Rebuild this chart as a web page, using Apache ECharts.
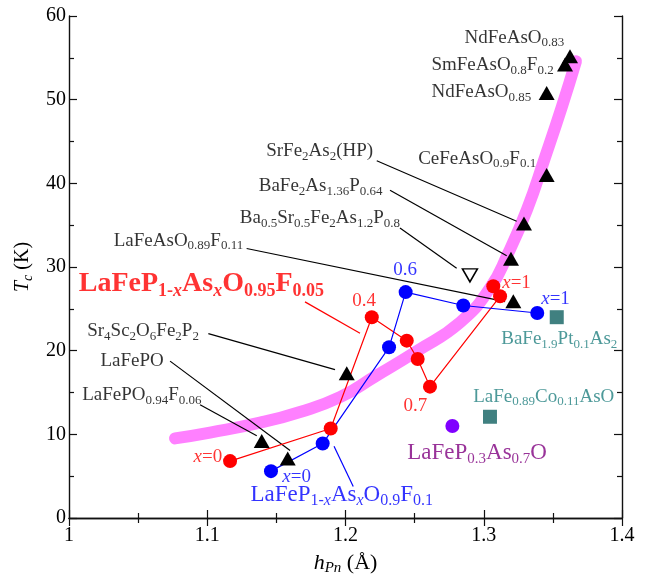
<!DOCTYPE html>
<html>
<head>
<meta charset="utf-8">
<script src="https://cdn.jsdelivr.net/npm/echarts@6/dist/echarts.min.js"></script>
<style>
html, body { margin: 0; padding: 0; background: #fff; }
#chart { width: 651px; height: 581px; }
</style>
</head>
<body>
<div id="chart"></div>
<script>
// Tc vs pnictogen height h_Pn
var FONT = 'Liberation Serif';

// black up-triangles (other compounds)
var triangleNames = ['NdFeAsO0.83', 'SmFeAsO0.8F0.2', 'NdFeAsO0.85', 'CeFeAsO0.9F0.1', 'SrFe2As2(HP)',
    'BaFe2As1.36P0.64', 'LaFeAsO0.89F0.11', 'Sr4Sc2O6Fe2P2', 'LaFePO', 'LaFePO0.94F0.06'];
var triangleH = [1.3624, 1.3588, 1.3455, 1.3455, 1.3291, 1.3197, 1.3214, 1.2009, 1.1394, 1.1582];
var triangleTc = [55.2, 54.2, 50.8, 41.0, 35.2, 31.0, 25.9, 17.3, 9.2, 7.1];

// open down-triangle: Ba0.5Sr0.5Fe2As1.2P0.8
var openH = [1.2900];
var openTc = [29.0];

// LaFeP1-xAsxO0.95F0.05 (red)
var redH = [1.1165, 1.1893, 1.2190, 1.2443, 1.2522, 1.2611, 1.3118, 1.3069];
var redTc = [6.8, 10.7, 24.0, 21.2, 19.0, 15.7, 26.5, 27.7];

// LaFeP1-xAsxO0.9F0.1 (blue)
var blueH = [1.1461, 1.1835, 1.2315, 1.2435, 1.2852, 1.3387];
var blueTc = [5.6, 8.9, 20.4, 27.0, 25.4, 24.5];

// squares: BaFe1.9Pt0.1As2, LaFe0.89Co0.11AsO
var squareH = [1.3528, 1.3045];
var squareTc = [24.0, 12.1];

// LaFeP0.3As0.7O (purple)
var purpleH = [1.2773];
var purpleTc = [11.0];

// thick guide curve
var curveH = [1.0767, 1.1020, 1.1382, 1.1671, 1.1960, 1.2213, 1.2517, 1.2828, 1.3045, 1.3175, 1.3313, 1.3443, 1.3566, 1.3667];
var curveTc = [9.51, 10.21, 11.39, 12.68, 14.44, 16.91, 19.96, 23.37, 27.47, 31.58, 36.87, 43.09, 49.20, 54.60];

// leader lines [h0, tc0, h1, tc1]
var blackLeaders = [
    [1.2226, 42.70, 1.3238, 35.46],
    [1.2322, 39.18, 1.3166, 31.35],
    [1.2394, 34.67, 1.2804, 29.86],
    [1.1285, 32.21, 1.3154, 25.87],
    [1.1008, 22.04, 1.1924, 17.73],
    [1.0731, 18.75, 1.1599, 8.07],
    [1.0948, 13.54, 1.1358, 9.83]
];
var redLeaders = [[1.1707, 25.83, 1.2105, 22.07]];
var blueLeaders = [[1.1917, 8.57, 1.2056, 3.76]];

// text labels [h, tc, rich text]
var blackLabels = [
    [1.2857, 57.41, '{n|NdFeAsO}{s|0.83}'],
    [1.2618, 54.13, '{n|SmFeAsO}{s|0.8}{n|F}{s|0.2}'],
    [1.2618, 50.87, '{n|NdFeAsO}{s|0.85}'],
    [1.2522, 42.94, '{n|CeFeAsO}{s|0.9}{n|F}{s|0.1}'],
    [1.1423, 43.82, '{n|SrFe}{s|2}{n|As}{s|2}{n|(HP)}'],
    [1.1369, 39.65, '{n|BaFe}{s|2}{n|As}{s|1.36}{n|P}{s|0.64}'],
    [1.1232, 35.81, '{n|Ba}{s|0.5}{n|Sr}{s|0.5}{n|Fe}{s|2}{n|As}{s|1.2}{n|P}{s|0.8}'],
    [1.0320, 33.11, '{n|LaFeAsO}{s|0.89}{n|F}{s|0.11}'],
    [1.0128, 22.31, '{n|Sr}{s|4}{n|Sc}{s|2}{n|O}{s|6}{n|Fe}{s|2}{n|P}{s|2}'],
    [1.0224, 18.82, '{n|LaFePO}'],
    [1.0092, 14.68, '{n|LaFePO}{s|0.94}{n|F}{s|0.06}']
];
var redTitle = [[1.0067, 27.94, '{n|LaFeP}{s|1-}{si|x}{n|As}{si|x}{n|O}{s|0.95}{n|F}{s|0.05}']];
var redLabels = [
    [1.2045, 25.89, '{n|0.4}'],
    [1.2416, 13.44, '{n|0.7}'],
    [1.3130, 28.06, '{i|x}{n|=1}'],
    [1.0897, 7.28, '{i|x}{n|=0}']
];
var blueLabels = [
    [1.2341, 29.59, '{n|0.6}'],
    [1.3412, 26.12, '{i|x}{n|=1}'],
    [1.1539, 4.87, '{i|x}{n|=0}']
];
var blueTitle = [[1.1309, 2.70, '{n|LaFeP}{s|1-}{si|x}{n|As}{si|x}{n|O}{s|0.9}{n|F}{s|0.1}']];
var tealLabels = [
    [1.3123, 21.37, '{n|BaFe}{s|1.9}{n|Pt}{s|0.1}{n|As}{s|2}'],
    [1.2920, 14.48, '{n|LaFe}{s|0.89}{n|Co}{s|0.11}{n|AsO}']
];
var purpleLabels = [[1.2443, 7.75, '{n|LaFeP}{s|0.3}{n|As}{s|0.7}{n|O}']];

function zip(a, b) {
    return a.map(function (v, i) { return [v, b[i]]; });
}

function rich(color, size, sub, weight) {
    var base = { color: color, fontFamily: FONT, fontWeight: weight || 'normal' };
    return {
        n: Object.assign({ fontSize: size, lineHeight: size + 4 }, base),
        i: Object.assign({ fontSize: size, lineHeight: size + 4, fontStyle: 'italic' }, base),
        s: Object.assign({ fontSize: sub, lineHeight: sub - 2, verticalAlign: 'bottom' }, base),
        si: Object.assign({ fontSize: sub, lineHeight: sub - 2, verticalAlign: 'bottom', fontStyle: 'italic' }, base)
    };
}

function labelSeries(items, rs) {
    return {
        type: 'scatter',
        silent: true,
        symbolSize: 1,
        itemStyle: { color: 'transparent' },
        z: 10,
        label: { show: true, position: 'right', distance: 0, rich: rs },
        data: items.map(function (it) {
            return { value: [it[0], it[1]], label: { formatter: it[2] } };
        })
    };
}

function leaderSeries(segs, color) {
    return segs.map(function (s) {
        return {
            type: 'line',
            silent: true,
            symbol: 'none',
            z: 4,
            lineStyle: { color: color, width: 1.2 },
            data: [[s[0], s[1]], [s[2], s[3]]]
        };
    });
}

var axisLine = { lineStyle: { color: '#111', width: 1.4 } };
var tick = { inside: true, length: 8, lineStyle: { color: '#111', width: 1.2 } };
var minor = { show: true, splitNumber: 2, length: 5, lineStyle: { color: '#111', width: 1.2 } };

var chart = echarts.init(document.getElementById('chart'));
chart.setOption({
    animation: false,
    backgroundColor: '#fff',
    grid: { left: 69, right: 29, top: 16, bottom: 54 },
    xAxis: [{
        type: 'value', min: 1, max: 1.4, interval: 0.1,
        axisLine: axisLine,
        axisTick: tick,
        minorTick: minor,
        splitLine: { show: false },
        axisLabel: {
            color: '#000', fontFamily: FONT, fontSize: 20, margin: 8,
            formatter: function (v) { return String(+v.toFixed(1)); }
        },
        name: '{i|h}{si|Pn} (Å)',
        nameLocation: 'middle',
        nameGap: 32,
        nameTextStyle: {
            color: '#000', fontFamily: FONT, fontSize: 22,
            rich: rich('#000', 22, 15)
        }
    }, {
        type: 'value', min: 1, max: 1.4, interval: 0.1, position: 'top',
        axisLine: axisLine,
        axisTick: tick,
        minorTick: minor,
        splitLine: { show: false },
        axisLabel: { show: false }
    }],
    yAxis: [{
        type: 'value', min: 0, max: 60, interval: 10,
        axisLine: axisLine,
        axisTick: tick,
        minorTick: minor,
        splitLine: { show: false },
        axisLabel: { color: '#000', fontFamily: FONT, fontSize: 20, margin: 3 },
        name: '{i|T}{si|c} (K)',
        nameLocation: 'middle',
        nameRotate: 90,
        nameGap: 31,
        nameTextStyle: {
            color: '#000', fontFamily: FONT, fontSize: 20,
            rich: rich('#000', 20, 14)
        }
    }, {
        type: 'value', min: 0, max: 60, interval: 10, position: 'right',
        axisLine: axisLine,
        axisTick: tick,
        minorTick: minor,
        splitLine: { show: false },
        axisLabel: { show: false }
    }],
    series: [{
        type: 'line',
        silent: true,
        symbol: 'none',
        smooth: 0.5,
        z: 1,
        lineStyle: { color: '#ff80ff', width: 12, cap: 'round', join: 'round' },
        data: zip(curveH, curveTc)
    }].concat(
        leaderSeries(blackLeaders, '#000'),
        leaderSeries(redLeaders, '#ff0000'),
        leaderSeries(blueLeaders, '#0000ff'),
        [{
            type: 'line',
            symbol: 'circle', symbolSize: 14,
            z: 5,
            itemStyle: { color: '#ff0000', opacity: 1 },
            lineStyle: { color: '#ff0000', width: 1.2 },
            data: zip(redH, redTc)
        }, {
            type: 'line',
            symbol: 'circle', symbolSize: 14,
            z: 5,
            itemStyle: { color: '#0000ff', opacity: 1 },
            lineStyle: { color: '#0000ff', width: 1.2 },
            data: zip(blueH, blueTc)
        }, {
            type: 'scatter',
            symbol: 'triangle', symbolSize: [16, 14],
            z: 6,
            itemStyle: { color: '#000', opacity: 1 },
            data: zip(triangleH, triangleTc)
        }, {
            type: 'scatter',
            symbol: 'triangle', symbolSize: [15, 13], symbolRotate: 180,
            z: 6,
            itemStyle: { color: '#fff', borderColor: '#000', borderWidth: 1.5, opacity: 1 },
            data: zip(openH, openTc)
        }, {
            type: 'scatter',
            symbol: 'rect', symbolSize: 14,
            z: 6,
            itemStyle: { color: '#408080', opacity: 1 },
            data: zip(squareH, squareTc)
        }, {
            type: 'scatter',
            symbol: 'circle', symbolSize: 14,
            z: 6,
            itemStyle: { color: '#8000ff', opacity: 1 },
            data: zip(purpleH, purpleTc)
        },
        labelSeries(blackLabels, rich('#000', 19, 13)),
        labelSeries(redTitle, rich('#ff0000', 28, 18, 'bold')),
        labelSeries(redLabels, rich('#ff0000', 19, 13)),
        labelSeries(blueLabels, rich('#0000ff', 19, 13)),
        labelSeries(blueTitle, rich('#0000ff', 23, 16)),
        labelSeries(tealLabels, rich('#208080', 19, 13)),
        labelSeries(purpleLabels, rich('#800080', 23, 15))
        ]
    )
});
</script>
</body>
</html>
